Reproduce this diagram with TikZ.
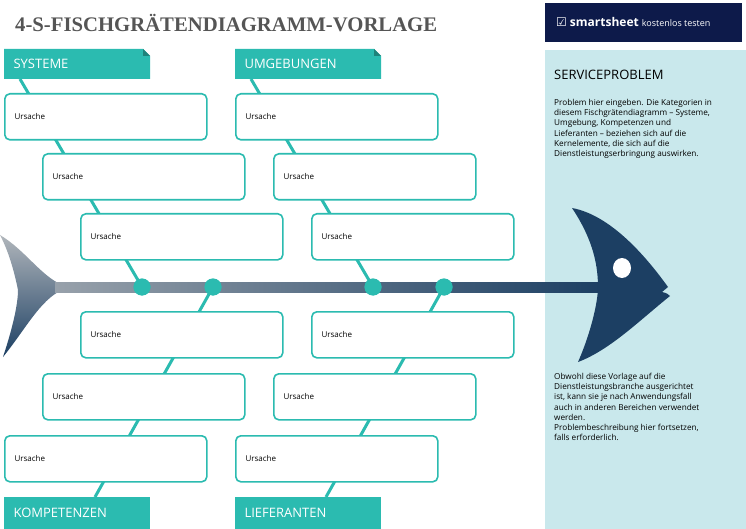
\documentclass[tikz,border=0pt]{standalone}
\usepackage{fontspec}
\setmainfont{Open Sans}
\newfontfamily\titlefont{Liberation Serif}
\newfontfamily\symfont{DejaVu Sans}
\usetikzlibrary{calc}
\definecolor{teal}{HTML}{2BBBB0}
\definecolor{navy}{HTML}{1C3F63}
\definecolor{hdr}{HTML}{0D1A4A}
\definecolor{panel}{HTML}{C9E8EC}
\definecolor{titlegray}{HTML}{555555}
\tikzset{
 cause/.style={draw=teal,line width=1.6pt,fill=white,rounded corners=5pt,minimum width=200pt,minimum height=45pt,inner sep=0pt},
 ctext/.style={font=\fontsize{8}{9}\selectfont,anchor=west},
 bone/.style={teal,line width=3pt},
 dot/.style={circle,fill=teal,minimum size=17pt,inner sep=0pt},
 cat/.style={font=\fontsize{13}{15}\selectfont,text=white,anchor=west},
 ptext/.style={font=\fontsize{8.2}{10.2}\selectfont,anchor=north west,align=left,inner sep=0pt}
}
\begin{document}
\begin{tikzpicture}[x=1pt,y=-1pt]
\useasboundingbox (0,0) rectangle (746,529);
\fill[white] (0,0) rectangle (746,529);
% panel
\fill[panel] (545,50) rectangle (746,529);
\fill[hdr] (545,3) rectangle (742,42);
\node[anchor=west,text=white,inner sep=0pt] (logo) at (556,22) {{\symfont\fontsize{12}{13}\selectfont ☑}\hspace{3pt}{\fontsize{12}{13}\selectfont\bfseries smartsheet}\hspace{3pt}{\fontsize{9}{10}\selectfont kostenlos testen}};
\node[anchor=west,font=\titlefont\bfseries,text=titlegray,inner sep=0pt] (title) at (15,23) {\resizebox{422pt}{!}{4-S-FISCHGRÄTENDIAGRAMM-VORLAGE}};
\node[anchor=west,font=\fontsize{13}{15}\selectfont,inner sep=0pt] (sp) at (554,75) {SERVICEPROBLEM};
\node[ptext] (p1) at (554,99) {Problem hier eingeben. Die Kategorien in\\diesem Fischgrätendiagramm – Systeme,\\Umgebung, Kompetenzen und\\Lieferanten – beziehen sich auf die\\Kernelemente, die sich auf die\\Dienstleistungserbringung auswirken.};
\node[ptext] (p2) at (554,373) {Obwohl diese Vorlage auf die\\Dienstleistungsbranche ausgerichtet\\ist, kann sie je nach Anwendungsfall\\auch in anderen Bereichen verwendet\\werden.\\Problembeschreibung hier fortsetzen,\\falls erforderlich.};
% tail
\shade[top color=gray!70!navy!50,bottom color=navy] (0,235) .. controls (25,250) and (40,275) .. (62,285) -- (62,290) .. controls (40,300) and (25,330) .. (3,357) .. controls (12,330) and (18,305) .. (18,290) .. controls (14,270) and (8,250) .. (0,235) -- cycle;
% spine
\shade[left color=gray!55!navy!60,right color=navy] (55,282) rectangle (600,292);
% head
\fill[navy] (572,208) .. controls (610,215) and (645,255) .. (668,287) -- (662,292) .. controls (668,293) and (668,295) .. (670,296) .. controls (640,320) and (610,350) .. (578,362) .. controls (592,330) and (598,300) .. (598,287) .. controls (598,260) and (590,235) .. (572,208) -- cycle;
\fill[white] (622,268) ellipse (9 and 10);
% dots
\node[dot] (d1) at (142,287) {};
\node[dot] (d2) at (213,287) {};
\node[dot] (d3) at (373,287) {};
\node[dot] (d4) at (444,287) {};
% bone ends
\coordinate (t1) at (20,79);
\coordinate (t2) at (251,79);
\coordinate (b1) at (95,497);
\coordinate (b2) at (326,497);
\draw[bone] (t1) -- (d1.center);
\draw[bone] (t2) -- (d3.center);
\draw[bone] (d2.center) -- (b1);
\draw[bone] (d4.center) -- (b2);
\node[dot] at (d1) {};\node[dot] at (d2) {};\node[dot] at (d3) {};\node[dot] at (d4) {};
% category labels
\fill[teal] (4,49) -- (143,49) -- (150,56) -- (150,79) -- (4,79) -- cycle;
\fill[teal!70!black] (143,49) -- (150,56) -- (143,56) -- cycle;
\node[cat] (c1) at (10,64) {SYSTEME};
\fill[teal] (235,49) -- (374,49) -- (381,56) -- (381,79) -- (235,79) -- cycle;
\fill[teal!70!black] (374,49) -- (381,56) -- (374,56) -- cycle;
\node[cat] (c2) at (241,64) {UMGEBUNGEN};
\fill[teal] (4,497) rectangle (150,529);
\node[cat] (c3) at (10,513) {KOMPETENZEN};
\fill[teal] (235,497) rectangle (381,529);
\node[cat] (c4) at (241,513) {LIEFERANTEN};
% cause boxes
\foreach \n/\x/\y in {a1/4/93,a2/42/153,a3/80/213,a4/80/311,a5/42/373,a6/4/435,
                      b1x/235/93,b2x/273/153,b3x/311/213,b4x/311/311,b5x/273/373,b6x/235/435}{
  \node[cause,anchor=north west,minimum width=202pt,minimum height=46pt] (\n) at (\x,\y) {};
  \node[ctext] at ($(\n.west)+(7,0)$) {Ursache};
}
\end{tikzpicture}
\end{document}
